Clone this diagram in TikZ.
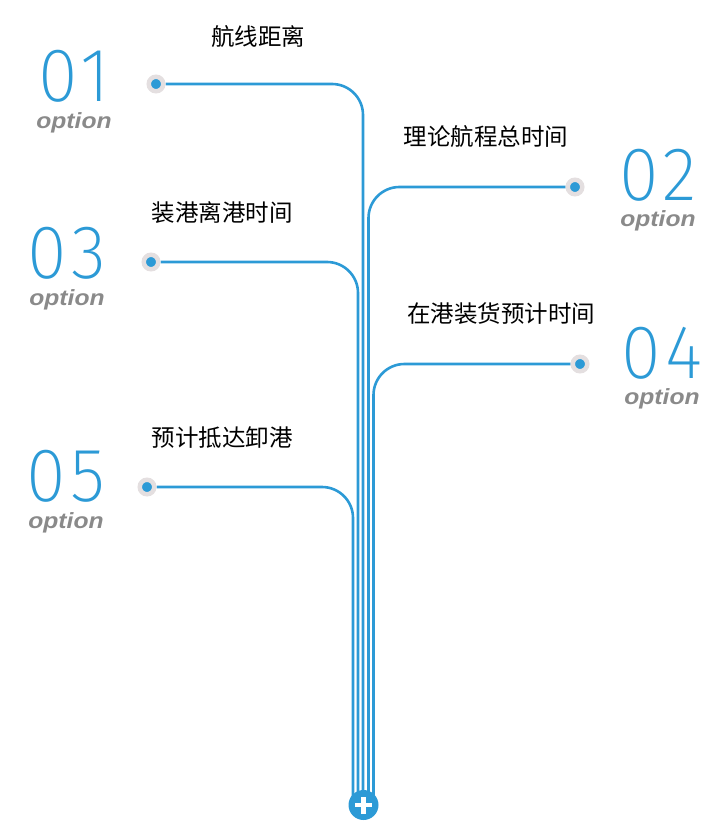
\documentclass[tikz,border=0pt]{standalone}
\usepackage{fontspec}
\usepackage{xcolor}
\usetikzlibrary{positioning, backgrounds}
\newfontfamily\cjk{Noto Sans CJK SC}
\newfontfamily\numfont{Fira Sans ExtraLight}[LetterSpace=7]
\newfontfamily\optfont{Liberation Sans}
\definecolor{lineblue}{HTML}{2C9AD6}
\definecolor{halo}{HTML}{E4DFE0}
\definecolor{optgray}{HTML}{8A8A8A}

\begin{document}
\begin{tikzpicture}[
      x=1pt, y=-1pt,
      wire/.style={draw=lineblue, line width=2.6pt, rounded corners=31pt},
      dot/.style={circle, fill=lineblue, draw=halo, line width=4.5pt, minimum size=14.5pt, inner sep=0pt},
      num/.style={inner sep=0pt, text=lineblue, xscale=0.95, font=\numfont\fontsize{76}{76}\selectfont},
      opt/.style={inner sep=0pt, text=optgray, xscale=1.12, font=\optfont\bfseries\itshape\fontsize{22}{22}\selectfont},
      lbl/.style={inner sep=0pt, font=\cjk\fontsize{23.5}{23.5}\selectfont},
      plusbtn/.style={circle, fill=lineblue, minimum size=30pt, inner sep=0pt,
        path picture={\draw[white, line width=4.6pt]
          ([xshift=-8.5pt]path picture bounding box.center) -- ([xshift=8.5pt]path picture bounding box.center)
          ([yshift=-8.5pt]path picture bounding box.center) -- ([yshift=8.5pt]path picture bounding box.center);}}
    ]
    \useasboundingbox (0,0) rectangle (718,837);

    % numbers
    \node[num] (n1) at (74,76) {01};
    \node[num] (n2) at (658,175) {02};
    \node[num] (n3) at (67,253) {03};
    \node[num] (n4) at (662,353) {04};
    \node[num] (n5) at (66,476) {05};
    \node[opt, below=10pt of n1] (o1) {option};
    \node[opt, below=9pt of n2] (o2) {option};
    \node[opt, below=10pt of n3] (o3) {option};
    \node[opt, below=9pt of n4] (o4) {option};
    \node[opt, below=10pt of n5] (o5) {option};

    % labels
    \node[lbl] (t1) at (258,37) {航线距离};
    \node[lbl] (t2) at (486,137) {理论航程总时间};
    \node[lbl] (t3) at (222,213) {装港离港时间};
    \node[lbl] (t4) at (501,314) {在港装货预计时间};
    \node[lbl] (t5) at (222,438) {预计抵达卸港};

    % dots and button
    \node[dot] (d1) at (156,84) {};
    \node[dot] (d2) at (575,187) {};
    \node[dot] (d3) at (151,262) {};
    \node[dot] (d4) at (580,364) {};
    \node[dot] (d5) at (147,487) {};
    \node[plusbtn] (plus) at (363.5,805) {};

    \begin{scope}[on background layer]
      \draw[wire] (d1) -| ([xshift=-0.5pt]plus.center);
      \draw[wire] (d2) -| ([xshift=5pt]plus.center);
      \draw[wire] (d3) -| ([xshift=-5.5pt]plus.center);
      \draw[wire] (d4) -| ([xshift=10pt]plus.center);
      \draw[wire] (d5) -| ([xshift=-10.5pt]plus.center);
    \end{scope}
  \end{tikzpicture}
\end{document}
